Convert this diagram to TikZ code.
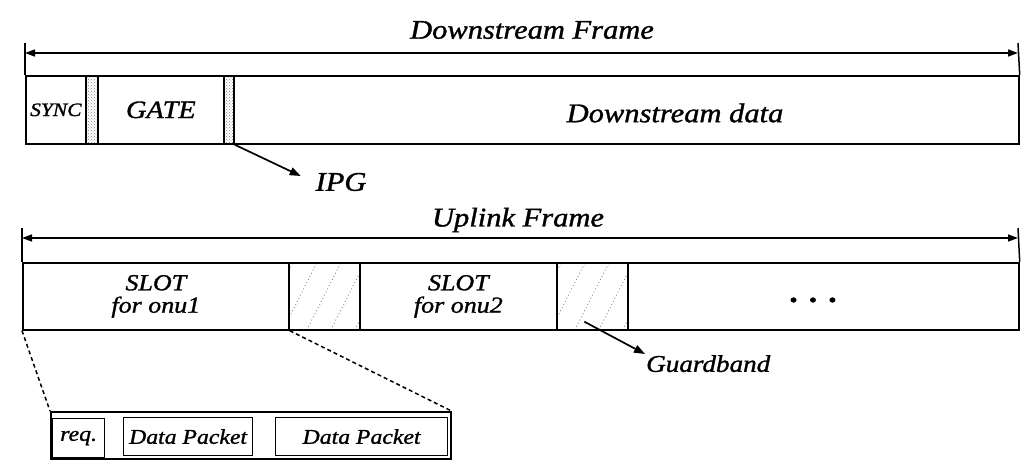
\documentclass[tikz,border=0pt]{standalone}
\usepackage{fontspec}
\setmainfont{Liberation Serif}[FakeStretch=1.13,FakeBold=1.2]
\usetikzlibrary{arrows.meta,patterns}
\begin{document}
\begin{tikzpicture}[x=1pt,y=-1pt,
  every node/.style={font=\itshape},
  cell/.style={draw, line width=1.7pt, anchor=north west, inner sep=0pt, align=center},
  ipgband/.style={cell, pattern=crosshatch dots, pattern color=gray},
  gband/.style={cell, path picture={
      \foreach \i in {-30,-6,18,42,66}{
        \draw[gray, line width=0.8pt, dash pattern=on 1pt off 2.5pt]
          ([xshift=\i pt]path picture bounding box.south west) -- ++(34pt,67pt);}}},
  tick/.style={line width=1.5pt},
  span/.style={line width=1.6pt, {Triangle[length=10pt,width=7pt]}-{Triangle[length=10pt,width=7pt]}},
  ptr/.style={line width=1.7pt, -{Triangle[length=11pt,width=8pt]}},
  zoomline/.style={line width=1.5pt, dash pattern=on 4pt off 3pt},
  pkt/.style={draw, line width=1.2pt, anchor=north west, inner sep=0pt}
]
\useasboundingbox (0,0) rectangle (1022,465);

% ---------- Downstream frame ----------
\node (dtitle) at (532,30) {\fontsize{27}{27}\selectfont Downstream Frame};
\coordinate (dtl) at (25,43);
\coordinate (dtr) at (1018,43);
\coordinate (dal) at (25,53);
\coordinate (dar) at (1018,53);

\node[cell, minimum width=60pt, minimum height=68pt] (sync) at (25,75) {\fontsize{19}{19}\selectfont SYNC};
\node[ipgband, minimum width=12pt, minimum height=68pt] (ipg1) at (85,75) {};
\node[cell, minimum width=126pt, minimum height=68pt] (gate) at (97,75) {\fontsize{25}{25}\selectfont GATE};
\node[ipgband, minimum width=10pt, minimum height=68pt] (ipg2) at (223,75) {};
\node[cell, minimum width=785pt, minimum height=68pt] (ddata) at (233,75) {};
\node (ddatal) at (675,113) {\fontsize{27}{27}\selectfont Downstream data};

\draw[tick] (dtl) -- (sync.north west);
\draw[tick] (dtr) -- (ddata.north east);
\draw[span] (dal) -- (dar);

\node[inner sep=2pt] (ipglbl) at (341,182) {\fontsize{27}{27}\selectfont IPG};
\draw[ptr, shorten >=14pt] (ipg2.south east) -- (ipglbl.west);

% ---------- Uplink frame ----------
\node (utitle) at (518,220) {\fontsize{27}{27}\selectfont Uplink Frame};
\coordinate (utl) at (22,228);
\coordinate (utr) at (1018,228);
\coordinate (ual) at (22,238);
\coordinate (uar) at (1018,238);

\node[cell, minimum width=266pt, minimum height=67pt] (slot1) at (22,262)
  {\fontsize{23}{23}\selectfont SLOT\\[5pt]\fontsize{23}{23}\selectfont for onu1};
\node[gband, minimum width=71pt, minimum height=67pt] (g1) at (288,262) {};
\node[cell, minimum width=197pt, minimum height=67pt] (slot2) at (359,262)
  {\fontsize{23}{23}\selectfont SLOT\\[5pt]\fontsize{23}{23}\selectfont for onu2};
\node[gband, minimum width=71pt, minimum height=67pt] (g2) at (556,262) {};
\node[cell, minimum width=391pt, minimum height=67pt] (rest) at (627,262) {};
\node[anchor=base, font=\bfseries] (dots) at (813,302) {\fontsize{30}{30}\selectfont .\hspace{11pt}.\hspace{11pt}.};

\draw[tick] (utl) -- (slot1.north west);
\draw[tick] (utr) -- (rest.north east);
\draw[span] (ual) -- (uar);

\node[inner sep=1pt, anchor=north west] (gb) at (645,354) {\fontsize{24}{24}\selectfont Guardband};
\draw[ptr] ([xshift=-8pt,yshift=9pt]g2.south) -- (gb.north west);

% ---------- Slot detail ----------
\node[pkt, line width=1.5pt, minimum width=400pt, minimum height=47pt] (outer) at (50,411) {};
\node[pkt, minimum width=52pt, minimum height=39pt] (req) at (52,418) {\fontsize{21}{21}\selectfont req.};
\node[pkt, minimum width=129pt, minimum height=38pt] (dp1) at (123,417) {\fontsize{21}{21}\selectfont Data Packet};
\node[pkt, minimum width=172pt, minimum height=38pt] (dp2) at (275,417) {\fontsize{21}{21}\selectfont Data Packet};

\draw[zoomline] (slot1.south west) -- (outer.north west);
\draw[zoomline] (slot1.south east) -- (outer.north east);
\end{tikzpicture}
\end{document}
